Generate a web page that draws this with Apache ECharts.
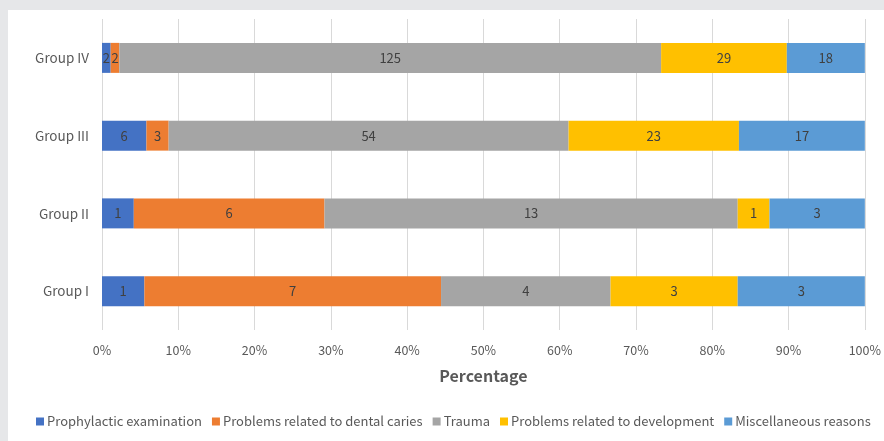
<!DOCTYPE html>
<html>
<head>
<meta charset="utf-8">
<script src="https://cdn.jsdelivr.net/npm/echarts@6/dist/echarts.min.js"></script>
<style>
  html, body { margin: 0; padding: 0; background: #e6e7e9; }
  body { width: 884px; height: 441px; position: relative; overflow: hidden; }
  #chart { position: absolute; left: 8px; top: 10px; width: 876px; height: 431px; background: #ffffff; }
</style>
</head>
<body>
<div id="chart"></div>
<script>
// Reasons for dental visits, counts per group
const groups = ['Group I', 'Group II', 'Group III', 'Group IV'];
const seriesNames = [
  'Prophylactic examination',
  'Problems related to dental caries',
  'Trauma',
  'Problems related to development',
  'Miscellaneous reasons'
];
const prophylactic = [1, 1, 6, 2];
const caries = [7, 6, 3, 2];
const trauma = [4, 13, 54, 125];
const development = [3, 1, 23, 29];
const miscellaneous = [3, 3, 17, 18];
const colors = ['#4472c4', '#ed7d31', '#a5a5a5', '#ffc000', '#5b9bd5'];

const counts = [prophylactic, caries, trauma, development, miscellaneous];
const totals = groups.map((_, i) => counts.reduce((s, arr) => s + arr[i], 0));

const font = '"Noto Sans CJK KR", "Noto Sans", sans-serif';

const chart = echarts.init(document.getElementById('chart'), null, { renderer: 'canvas' });
chart.setOption({
  animation: false,
  textStyle: { fontFamily: font },
  grid: { left: 94, right: 19, top: 9, bottom: 111, containLabel: false },
  xAxis: {
    type: 'value',
    min: 0,
    max: 100,
    interval: 10,
    axisLabel: { formatter: '{value}%', color: '#595959', fontSize: 12.5, margin: 14, fontFamily: font },
    axisLine: { show: false },
    axisTick: { show: false },
    splitLine: { lineStyle: { color: '#d9d9d9', width: 1 } },
    name: 'Percentage',
    nameLocation: 'middle',
    nameGap: 38,
    nameTextStyle: { color: '#595959', fontSize: 16, fontWeight: 'bold', fontFamily: font }
  },
  yAxis: {
    type: 'category',
    data: groups,
    axisLine: { show: false },
    axisTick: { show: false },
    axisLabel: { color: '#595959', fontSize: 13.5, margin: 13, fontFamily: font }
  },
  legend: {
    data: seriesNames,
    bottom: 8,
    left: 23,
    itemWidth: 8,
    itemHeight: 8,
    itemGap: 10,
    icon: 'rect',
    textStyle: { color: '#595959', fontSize: 13, fontFamily: font, padding: [0, 0, 0, -2] }
  },
  series: counts.map((arr, k) => ({
    name: seriesNames[k],
    type: 'bar',
    stack: 'total',
    barWidth: 30,
    itemStyle: { color: colors[k] },
    label: {
      show: true,
      position: 'inside',
      color: '#404040',
      fontSize: 13,
      fontFamily: font,
      formatter: p => String(arr[p.dataIndex])
    },
    data: arr.map((v, i) => v / totals[i] * 100)
  }))
});
</script>
</body>
</html>
